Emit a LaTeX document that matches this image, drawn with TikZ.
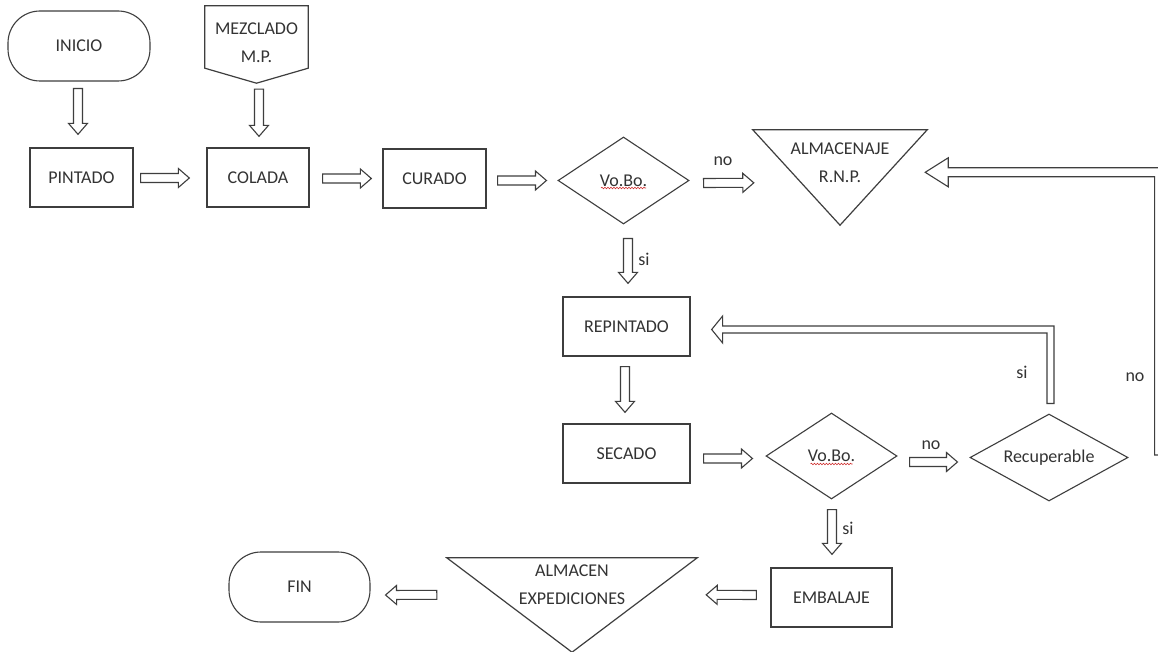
\documentclass[tikz,border=0pt]{standalone}
\usepackage{fontspec}
\setmainfont{Carlito}
\usetikzlibrary{calc,shapes.geometric,decorations.pathmorphing}
\definecolor{ink}{HTML}{3E3E3E}
\definecolor{txt}{HTML}{333333}
\definecolor{spell}{HTML}{D03030}

\tikzset{
  every node/.style={font=\fontsize{18}{28}\selectfont, text=txt},
  box/.style={draw=ink, line width=1.3pt, rectangle, minimum height=59pt, inner sep=0pt},
  term/.style={draw=ink, line width=1.1pt, rectangle, rounded corners=32pt, minimum width=142pt, minimum height=70pt, inner sep=0pt},
  dec/.style={draw=ink, line width=1.1pt, diamond, aspect=1.6, inner sep=0pt, minimum width=131pt, minimum height=87pt},
  frame/.style={rectangle, inner sep=0pt},
  outline/.style={draw=ink, line width=1.2pt, line join=miter},
  conn/.style={draw=ink, line width=1.1pt, fill=white, line join=miter},
  lbl/.style={inner sep=0pt},
  squiggle/.style={draw=spell, line width=0.6pt, decorate, decoration={snake, segment length=3pt, amplitude=0.8pt}}
}

\newcommand{\hollowarrow}[2]{%
  \draw[conn] let \p1=(#1), \p2=(#2),
      \n1={atan2(\y2-\y1,\x2-\x1)}, \n2={veclen(\x2-\x1,\y2-\y1)} in
    ([shift={(\p1)},rotate=\n1]0,4.5)
    -- ([shift={(\p1)},rotate=\n1]{\n2-11},4.5)
    -- ([shift={(\p1)},rotate=\n1]{\n2-11},9.5)
    -- ([shift={(\p1)},rotate=\n1]\n2,0)
    -- ([shift={(\p1)},rotate=\n1]{\n2-11},-9.5)
    -- ([shift={(\p1)},rotate=\n1]{\n2-11},-4.5)
    -- ([shift={(\p1)},rotate=\n1]0,-4.5) -- cycle;}

\begin{document}
\begin{tikzpicture}[x=1pt,y=-1pt]
\useasboundingbox (0,0) rectangle (1158,652);
\clip (0,0) rectangle (1158,652);
\fill[white] (0,0) rectangle (1158,652);

% --- nodes ---
\node[term] (inicio) at (79,46) {INICIO};
\node[box, minimum width=103pt] (pint) at (81.5,177.5) {PINTADO};
\node[frame, minimum width=103pt, minimum height=77pt] (mezc) at (256.5,44.5) {};
\draw[outline] (mezc.north west) -- (mezc.north east) -- ($(mezc.south east)+(0,-15)$)
  -- (mezc.south) -- ($(mezc.south west)+(0,-15)$) -- cycle;
\node[align=center] (mezct) at (256.5,43) {MEZCLADO\\M.P.};
\node[box, minimum width=102pt] (colada) at (258,177.5) {COLADA};
\node[box, minimum width=103pt] (curado) at (434.5,178.5) {CURADO};
\node[dec] (v1) at (623.5,180.5) {Vo.Bo.};
\node[frame, minimum width=174pt, minimum height=95pt] (alm) at (840,177.5) {};
\draw[outline] (alm.north west) -- (alm.north east) -- (alm.south) -- cycle;
\node[align=center] (almt) at ($(alm.center)+(0,-14.5)$) {ALMACENAJE\\R.N.P.};
\node[box, minimum width=127pt] (repint) at (626.5,326.5) {REPINTADO};
\node[box, minimum width=127pt] (secado) at (626.5,453.5) {SECADO};
\node[dec, minimum height=86pt] (v2) at (831.5,456) {Vo.Bo.};
\node[dec, minimum width=158pt] (recup) at (1049,457.5) {Recuperable};
\node[box, minimum width=121pt] (embal) at (831.5,597.5) {EMBALAJE};
\node[frame, minimum width=250pt, minimum height=94pt] (almexp) at (572,605) {};
\draw[outline] (almexp.north west) -- (almexp.north east) -- (almexp.south) -- cycle;
\node[align=center] (almexpt) at ($(almexp.center)+(0,-20.5)$) {ALMACEN\\EXPEDICIONES};
\node[term, minimum width=141pt] (fin) at (299.5,587) {FIN};

% spell-check underlines
\draw[squiggle] ($(v1.center)+(-22.5,7.5)$) -- ($(v1.center)+(22.5,7.5)$);
\draw[squiggle] ($(v2.center)+(-21,8)$) -- ($(v2.center)+(21,8)$);

% --- straight connectors ---
\hollowarrow{$(inicio.south)+(-1,7)$}{$(pint.north)+(-3.5,-13)$}
\hollowarrow{$(mezc.south)+(2.5,6)$}{$(colada.north)+(1,-11)$}
\hollowarrow{$(pint.east)+(7,0.5)$}{$(colada.west)+(-17,0.5)$}
\hollowarrow{$(colada.east)+(13,1)$}{$(curado.west)+(-11,0)$}
\hollowarrow{$(curado.east)+(11,2)$}{$(v1.west)+(-11,0)$}
\hollowarrow{$(v1.east)+(14,2.5)$}{$(alm.north west)+(1,53)$}
\hollowarrow{$(v1.south)+(4.5,14)$}{$(repint.north)+(1.5,-13)$}
\hollowarrow{$(repint.south)+(-1.5,10)$}{$(secado.north)+(-1.5,-11)$}
\hollowarrow{$(secado.east)+(13,5)$}{$(v2.west)+(-13,2.5)$}
\hollowarrow{$(v2.east)+(12,6)$}{$(recup.west)+(-12,4.5)$}
\hollowarrow{$(v2.south)+(0.5,10)$}{$(embal.north)+(0.5,-13)$}
\hollowarrow{$(embal.west)+(-14,-2.5)$}{$(almexp.north east)+(9,37)$}
\hollowarrow{$(almexp.north west)+(-10,37)$}{$(fin.east)+(15,8)$}

% --- elbow connectors ---
\draw[conn] let \p1=($(recup.north)+(-2,-10)$), \p2=($(repint.east)+(21,3)$) in
  (\x1,\y1) -- (\x1+7pt,\y1) -- (\x1+7pt,\y2+3.5pt) -- (\x2+11pt,\y2+3.5pt)
  -- (\x2+11pt,\y2+13.5pt) -- (\x2,\y2) -- (\x2+11pt,\y2-13.5pt)
  -- (\x2+11pt,\y2-3.5pt) -- (\x1,\y2-3.5pt) -- cycle;
\draw[conn] let \p1=($(recup.east)+(26,-2.5)$), \p2=($(alm.north east)+(-2,42.5)$) in
  (\x1,\y1) -- (\x1+9pt,\y1) -- (\x1+9pt,\y2+4.5pt) -- (\x2+23pt,\y2+4.5pt)
  -- (\x2+23pt,\y2+14.5pt) -- (\x2,\y2) -- (\x2+23pt,\y2-14.5pt)
  -- (\x2+23pt,\y2-4.5pt) -- (\x1,\y2-4.5pt) -- cycle;

% --- labels ---
\node[lbl] (lno1) at (723,161) {no};
\node[lbl] (lsi1) at (644,259) {si};
\node[lbl] (lsi2) at (1022,372) {si};
\node[lbl] (lno2) at (1135,377) {no};
\node[lbl] (lno3) at (931,445) {no};
\node[lbl] (lsi3) at (848,528) {si};
\end{tikzpicture}
\end{document}
